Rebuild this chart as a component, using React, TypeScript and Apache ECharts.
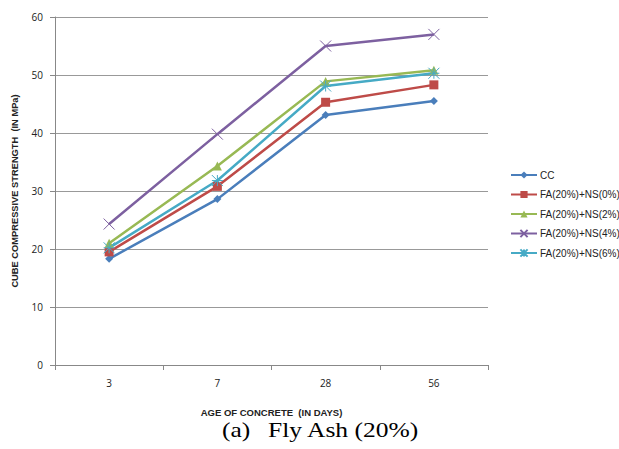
import React, { useEffect, useRef } from "react";
import * as echarts from "echarts";

const categories = ["3", "7", "28", "56"];
const seriesNames = ["CC", "FA(20%)+NS(0%)", "FA(20%)+NS(2%)", "FA(20%)+NS(4%)", "FA(20%)+NS(6%)"];
const cc = [18.3, 28.6, 43.1, 45.5];
const ns0 = [19.5, 30.8, 45.3, 48.3];
const ns2 = [21.0, 34.3, 48.9, 50.8];
const ns4 = [24.3, 39.8, 55.0, 57.0];
const ns6 = [20.2, 31.8, 48.1, 50.3];
const yTicks = [0, 10, 20, 30, 40, 50, 60];

const colors = ["#4A7EBB", "#BE4B48", "#98B954", "#7D60A0", "#46AAC5"];
const symbols = [
  "diamond",
  "rect",
  "triangle",
  "path://M0,0L10,10M10,0L0,10",
  "path://M0,0L10,10M10,0L0,10M5,0L5,10M0,5L10,5",
];
const symbolSizes = [8, 9, 9, 11, 11];

export default function App() {
  const ref = useRef<HTMLDivElement>(null);
  useEffect(() => {
    const chart = echarts.init(ref.current!, null, { renderer: "svg" });
    const data = [cc, ns0, ns2, ns4, ns6];
    chart.setOption({
      animation: false,
      backgroundColor: "#ffffff",
      textStyle: { fontFamily: "Open Sans, Liberation Sans, sans-serif" },
      grid: { left: 55, right: 131, top: 17, bottom: 84 },
      legend: {
        orient: "vertical",
        left: 505,
        top: 165,
        itemGap: 9.5,
        itemWidth: 26,
        itemHeight: 9,
        data: seriesNames,
        textStyle: { fontSize: 10, color: "#222", fontFamily: "Liberation Sans, sans-serif", padding: [0, 0, 0, -2] },
      },
      xAxis: {
        type: "category",
        data: categories,
        boundaryGap: true,
        name: "AGE OF CONCRETE  (IN DAYS)",
        nameLocation: "middle",
        nameGap: 42,
        nameTextStyle: { fontSize: 9.5, fontWeight: "bold", color: "#222", fontFamily: "Liberation Sans, sans-serif" },
        axisLine: { lineStyle: { color: "#888" } },
        axisTick: { show: true, length: 5, lineStyle: { color: "#888" } },
        axisLabel: { fontSize: 10, color: "#222", margin: 13 },
      },
      yAxis: {
        type: "value",
        min: yTicks[0],
        max: yTicks[yTicks.length - 1],
        interval: 10,
        name: "CUBE COMPRESSIVE STRENGTH  (IN MPa)",
        nameLocation: "middle",
        nameGap: 36,
        nameTextStyle: { fontSize: 9.3, fontWeight: "bold", color: "#222", fontFamily: "Liberation Sans, sans-serif" },
        axisLine: { show: true, lineStyle: { color: "#888" } },
        axisTick: { show: true, length: 5, lineStyle: { color: "#888" } },
        axisLabel: { fontSize: 10, color: "#222", margin: 12 },
        splitLine: { lineStyle: { color: "#999" } },
      },
      graphic: [
        {
          type: "text",
          x: 222,
          y: 419,
          scaleX: 1.16,
          style: {
            text: "(a)",
            fontFamily: "Liberation Serif, serif",
            fontSize: 22,
            fill: "#000",
          },
        },
        {
          type: "text",
          x: 268,
          y: 419,
          scaleX: 1.16,
          style: {
            text: "Fly Ash (20%)",
            fontFamily: "Liberation Serif, serif",
            fontSize: 22,
            fill: "#000",
          },
        },
      ],
      series: data.map((d, i) => ({
        name: seriesNames[i],
        type: "line",
        data: d,
        symbol: symbols[i],
        symbolSize: symbolSizes[i],
        showAllSymbol: true,
        lineStyle: { color: colors[i], width: 2.5 },
        itemStyle: { color: colors[i], borderColor: colors[i], borderWidth: i >= 3 ? 1 : 0 },
      })),
    });
    return () => chart.dispose();
  }, []);
  return <div ref={ref} style={{ width: 619, height: 449, position: "absolute", left: 0, top: 0 }} />;
}
